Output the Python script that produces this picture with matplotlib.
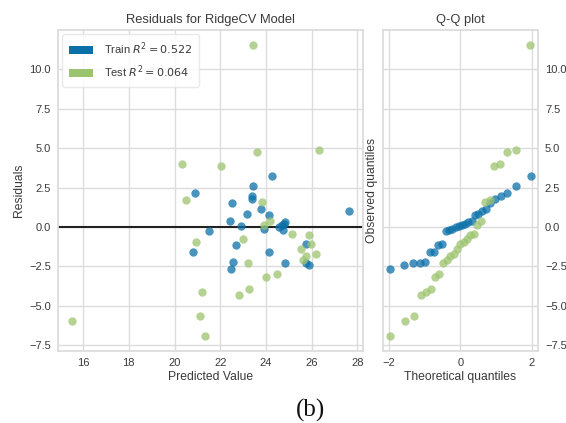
import matplotlib
matplotlib.use("Agg")
import matplotlib.pyplot as plt
from matplotlib.patches import Patch
from statistics import NormalDist
import numpy as np

# Predicted values and residuals (training split)
train_pred = [20.90, 20.80, 21.51, 22.49, 22.44, 22.46, 22.55, 22.68, 22.91, 23.15,
              23.39, 23.39, 23.43, 23.76, 23.91, 24.13, 24.13, 24.24, 24.58, 24.71,
              24.76, 24.80, 24.85, 24.83, 25.73, 25.76, 25.87, 27.65]
train_resid = [2.13, -1.60, -0.23, 1.52, 0.36, -2.63, -2.23, -1.14, 0.08, 0.84,
               2.00, 1.79, 2.61, 1.12, -0.11, 0.78, -1.60, 3.23, 0.02, 0.11,
               -0.19, 0.17, 0.30, -2.30, -1.05, -2.30, -2.42, 1.03]

# Predicted values and residuals (test split)
test_pred = [15.51, 20.33, 20.52, 20.94, 21.18, 21.13, 21.32, 22.02, 22.82, 23.01,
             23.20, 23.24, 23.43, 23.62, 23.81, 23.91, 24.00, 24.19, 24.50, 25.13,
             25.51, 25.61, 25.75, 25.86, 25.95, 26.20, 26.33]
test_resid = [-5.94, 4.03, 1.71, -0.93, -4.13, -5.61, -6.94, 3.90, -4.32, -0.74,
              -2.30, -3.92, 11.57, 4.79, 1.58, 0.11, -3.16, 0.36, -2.97, -0.46,
              -1.41, -2.11, -1.86, -0.53, -1.05, -1.69, 4.91]

train_r2 = 0.522
test_r2 = 0.064

TRAIN_COLOR = "#0b70a8"
TEST_COLOR = "#9cc46f"
GRID = "#dcdcdc"
TEXT = "#3a3a3a"


def normal_probplot(values):
    """Theoretical normal quantiles (Filliben order statistics) vs sorted values."""
    vals = np.sort(np.asarray(values, dtype=float))
    n = len(vals)
    m = np.empty(n)
    m[-1] = 0.5 ** (1.0 / n)
    m[0] = 1.0 - m[-1]
    i = np.arange(2, n)
    m[1:-1] = (i - 0.3175) / (n + 0.365)
    nd = NormalDist()
    osm = np.array([nd.inv_cdf(p) for p in m])
    return osm, vals


plt.rcParams["font.family"] = ["Liberation Sans", "DejaVu Sans"]
plt.rcParams["axes.unicode_minus"] = True

fig = plt.figure(figsize=(5.66, 4.23), dpi=100)
ax = fig.add_axes([0.1025, 0.170, 0.5395, 0.759])
qq = fig.add_axes([0.676, 0.170, 0.2745, 0.759], sharey=ax)


def style(a):
    a.set_facecolor("white")
    a.grid(True, color=GRID, linewidth=1.0)
    a.set_axisbelow(True)
    for s in a.spines.values():
        s.set_color(GRID)
        s.set_linewidth(1.3)
    a.tick_params(colors=TEXT, labelsize=8, length=0, pad=5)


style(ax)
style(qq)

# Residual scatter
ax.scatter(train_pred, train_resid, s=36, c=TRAIN_COLOR, alpha=0.75, linewidths=0, zorder=3)
ax.scatter(test_pred, test_resid, s=36, c=TEST_COLOR, alpha=0.75, linewidths=0, zorder=3)
ax.axhline(0, color="#222222", linewidth=1.5, zorder=2)
ax.margins(0.05)
ax.set_xticks([16, 18, 20, 22, 24, 26, 28])
ax.set_yticks([-7.5, -5.0, -2.5, 0.0, 2.5, 5.0, 7.5, 10.0])
ax.set_yticklabels(["\u22127.5", "\u22125.0", "\u22122.5", "0.0", "2.5", "5.0", "7.5", "10.0"])
ax.set_title("Residuals for RidgeCV Model", fontsize=9.3, color=TEXT, pad=5)
ax.set_xlabel("Predicted Value", fontsize=8.7, color=TEXT, labelpad=2)
ax.set_ylabel("Residuals", fontsize=8.7, color=TEXT, labelpad=3)

handles = [Patch(facecolor=TRAIN_COLOR, label=r"Train $R^2 = %.3f$" % train_r2),
           Patch(facecolor=TEST_COLOR, label=r"Test $R^2 = %.3f$" % test_r2)]
leg = ax.legend(handles=handles, loc="upper left", fontsize=8, frameon=True,
                handlelength=2.2, handleheight=0.8, borderpad=0.55, labelspacing=0.6,
                handletextpad=1.0, borderaxespad=0.4)
leg.get_frame().set_edgecolor("#e6e6e6")
leg.get_frame().set_facecolor("white")
leg.get_frame().set_alpha(0.85)
for t in leg.get_texts():
    t.set_color(TEXT)

# Normal Q-Q plot
osm_tr, osr_tr = normal_probplot(train_resid)
osm_te, osr_te = normal_probplot(test_resid)
qq.scatter(osm_tr, osr_tr, s=36, c=TRAIN_COLOR, alpha=0.75, linewidths=0, zorder=3)
qq.scatter(osm_te, osr_te, s=36, c=TEST_COLOR, alpha=0.75, linewidths=0, zorder=3)
qq.margins(0.05)
qq.set_xticks([-2, 0, 2])
qq.set_xticklabels(["\u22122", "0", "2"])
qq.tick_params(axis="y", labelleft=False, labelright=True)
qq.set_title("Q-Q plot", fontsize=9.3, color=TEXT, pad=5)
qq.set_xlabel("Theoretical quantiles", fontsize=8.7, color=TEXT, labelpad=2)
qq.set_ylabel("Observed quantiles", fontsize=8.7, color=TEXT, labelpad=3)

fig.text(0.549, 0.014, "(b)", fontsize=18, family=["Liberation Serif", "DejaVu Serif"],
         color="#111111", ha="center", va="baseline")

fig.savefig("out.png", dpi=100, facecolor="white")
